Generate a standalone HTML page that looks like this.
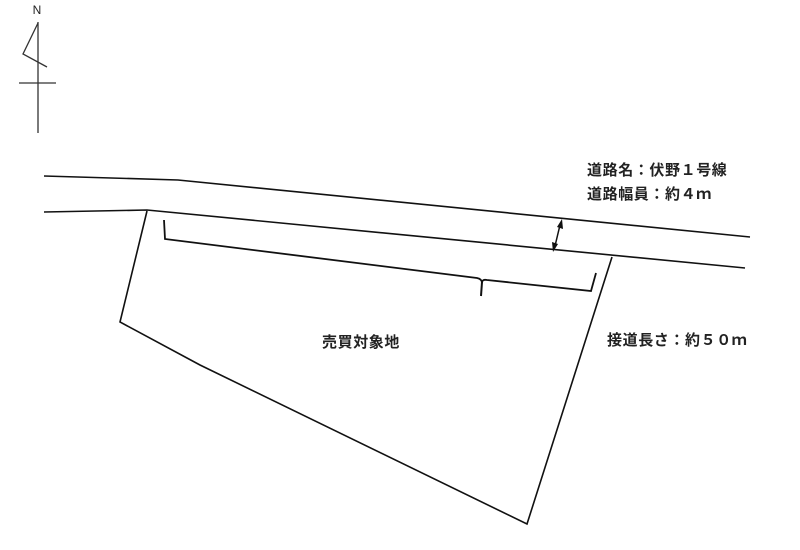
<!DOCTYPE html>
<html><head><meta charset="utf-8"><style>
html,body{margin:0;padding:0;background:#fff;}
svg{display:block;}
text{font-family:"Liberation Sans","Noto Sans CJK JP",sans-serif;fill:#222;}
.j{font-size:15px;font-weight:bold;letter-spacing:0.6px;}
</style></head><body>
<svg width="800" height="550" viewBox="0 0 800 550" xmlns="http://www.w3.org/2000/svg">
<g fill="none" stroke="#111" stroke-width="1.6" stroke-linejoin="miter">
<line x1="38" y1="22" x2="38" y2="133" stroke="#333" stroke-width="1.3"/>
<polyline points="38,23 23,54 47,67" stroke="#333" stroke-width="1.3"/>
<line x1="19" y1="83" x2="56" y2="83" stroke="#333" stroke-width="1.3"/>
<polyline points="44,176 178,180 750,237"/>
<polyline points="44,212 147,210 745,268"/>
<polyline points="147,211 120,322 200,365 527,524 612,257"/>
<path d="M164,220 L165,239 L477,278 Q482,279 482,283 Q482,279 487,280 L591,291 L596,273" stroke-width="1.8"/>
<line x1="482" y1="282" x2="481" y2="296" stroke-width="2"/>
<line x1="560" y1="225" x2="555" y2="246" stroke-width="1.5"/>
</g>
<polygon points="562,219 563,229 557,227" fill="#111"/>
<polygon points="553,252 552,242 558,244" fill="#111"/>
<text x="37" y="14" font-size="12" text-anchor="middle" fill="#333">N</text>
<text class="j" x="587" y="175">道路名：伏野１号線</text>
<text class="j" x="587" y="199">道路幅員：約４ｍ</text>
<text class="j" x="607" y="345">接道長さ：約５０ｍ</text>
<text class="j" x="322" y="347">売買対象地</text>
</svg>
</body></html>
